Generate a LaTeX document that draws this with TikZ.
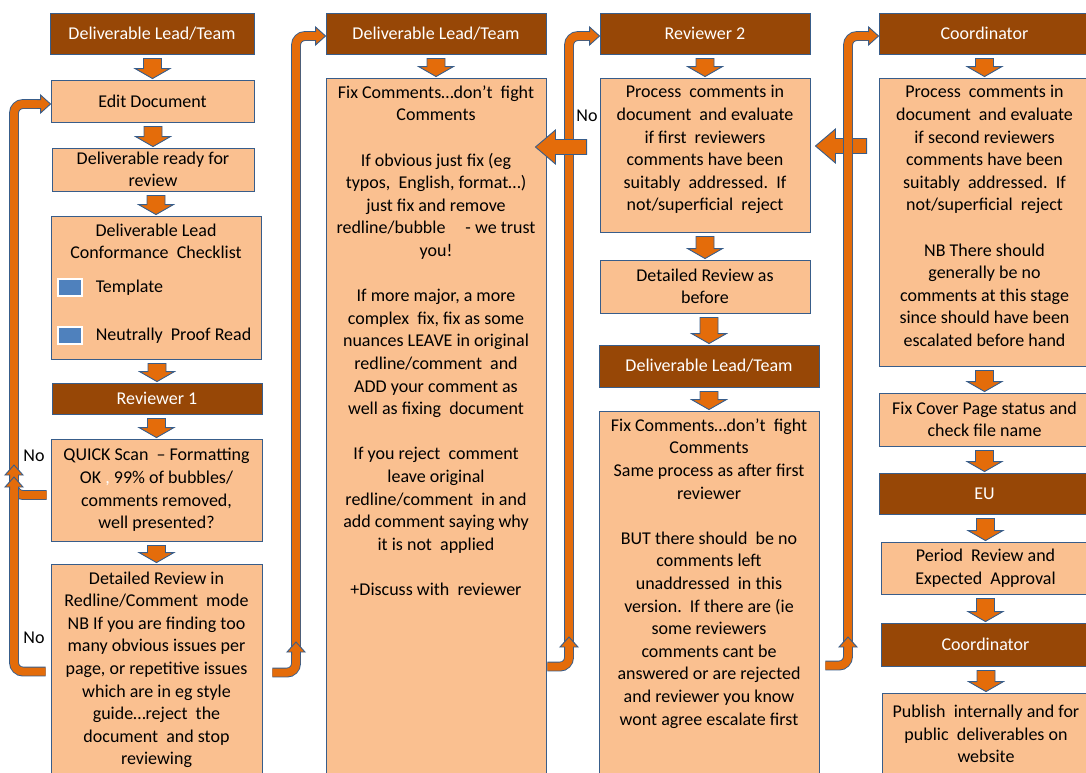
\documentclass[tikz,border=0pt]{standalone}
\usepackage{fontspec}
\setmainfont{Carlito}
\usetikzlibrary{calc,positioning}
\definecolor{mybrown}{RGB}{151,71,6}
\definecolor{myorange}{RGB}{228,108,10}
\definecolor{mypeach}{RGB}{250,192,144}
\definecolor{myblue}{RGB}{56,93,138}
\definecolor{mysquare}{RGB}{79,129,189}
\newcommand{\toptext}[3]{\parbox[c][#1][t]{#2}{\centering\vspace*{3.5pt}#3}}

\begin{document}
\begin{tikzpicture}
	[x=1pt, y=-1pt, every node/.style={font=\fontsize{18}{22.6}\selectfont},
	rolebox/.style={draw=myblue, fill=mybrown, text=white, line width=0.9pt, minimum height=41pt, inner sep=2pt},
	box/.style={draw=myblue, fill=mypeach, line width=0.9pt, align=center, inner sep=2pt},
	tallbox/.style={draw=myblue, fill=mypeach, line width=0.9pt, inner sep=4pt},
	sqbox/.style={fill=mysquare, draw=white, line width=1.2pt, minimum width=24pt, minimum height=17pt, inner sep=0pt},
	downarrow/.style={draw=myblue, fill=myorange, line width=0.9pt,
		to path={let \p1=(\tikztostart), \p2=(\tikztotarget) in
			(\x2-9pt,\y1) -- (\x2+9pt,\y1) -- (\x2+9pt,\y2+10pt) -- (\x2+17.5pt,\y2+10pt)
			-- (\x2,\y2) -- (\x2-17.5pt,\y2+10pt) -- (\x2-9pt,\y2+10pt) -- cycle}},
	leftarrow/.style={draw=myblue, fill=myorange, line width=0.9pt,
		to path={let \p1=(\tikztostart), \p2=(\tikztotarget) in
			(\x1,\y1+7.5pt) -- (\x2+20pt,\y1+7.5pt) -- (\x2+20pt,\y1+17pt) -- (\x2,\y1)
			-- (\x2+20pt,\y1-17pt) -- (\x2+20pt,\y1-7.5pt) -- (\x1,\y1-7.5pt) -- cycle}},
	bentshaft/.style={draw=myblue, line width=0.9pt, double=myorange, double distance=8pt, rounded corners=9pt},
	headright/.style={draw=myblue, fill=myorange, line width=0.9pt,
		to path={let \p1=(\tikztostart), \p2=(\tikztotarget) in
			(\x1,\y2+4.45pt) -- (\x2-10pt,\y2+4.45pt) -- (\x2-10pt,\y2+9pt) -- (\x2,\y2)
			-- (\x2-10pt,\y2-9pt) -- (\x2-10pt,\y2-4.45pt) -- (\x1,\y2-4.45pt)}},
	headup/.style={draw=myblue, fill=myorange, line width=0.9pt,
		to path={let \p1=(\tikztostart), \p2=(\tikztotarget) in
			(\x2-4.45pt,\y1) -- (\x2-4.45pt,\y2-10pt) -- (\x2-9pt,\y2-10pt) -- (\x2,\y2)
			-- (\x2+9pt,\y2-10pt) -- (\x2+4.45pt,\y2-10pt) -- (\x2+4.45pt,\y1)}}]
	\useasboundingbox (0,0) rectangle (1086,772);
	\clip (0,0) rectangle (1086,772);
	
	% first column
	\node[rolebox, minimum width=204pt] (lead1) at (152,33.5) {Deliverable Lead/Team};
	\node[box, minimum width=203pt, minimum height=42pt] (edit) at (152.5,101) {Edit Document};
	\node[box, minimum width=202pt, minimum height=43pt] (ready) at (153,169.5) {Deliverable ready for\\review};
	\node[tallbox] (check) at (156,287.5) {\toptext{135pt}{202pt}{Deliverable Lead\\Conformance\ \ Checklist}};
	\node[sqbox] (tmplsq) at (70,287.5) {};
	\node[inner sep=0pt, right=13pt of tmplsq] (tmpl) {Template};
	\node[sqbox] (proofsq) at (70,335.5) {};
	\node[inner sep=0pt, right=13pt of proofsq] (proof) {Neutrally\ \ Proof Read};
	\node[rolebox, minimum width=210pt, minimum height=31pt] (rev1) at (157,398.5) {Reviewer 1};
	\node[box, minimum width=211pt, minimum height=102pt] (quick) at (156.5,490)
		{QUICK Scan\ \ -- Formatting\\OK {\color{white},} 99\% of bubbles/\\comments removed,\\well presented?};
	\node[tallbox] (detail) at (156.5,672) {\toptext{208pt}{203pt}{Detailed Review in\\
		Redline/Comment\ \ mode\\NB If you are finding too\\many obvious issues per\\
		page, or repetitive issues\\which are in eg style\\guide…reject\ \ the\\
		document\ \ and stop\\reviewing}};
	\node (no1) at (34,456) {No};
	\node (no2) at (34,638) {No};
	
	% second column
	\node[rolebox, minimum width=220pt] (lead2) at (436,33.5) {Deliverable Lead/Team};
	\node[tallbox] (fix1) at (436,439) {\toptext{714pt}{212pt}{Fix Comments…don’t\ \ fight\\
		Comments\\[22.6pt]
		If obvious just fix (eg\\typos,\ \ English, format…)\\just fix and remove\\
		redline/bubble\hspace{20pt}- we trust\\you!\\[22.6pt]
		If more major, a more\\complex\ \ fix, fix as some\\nuances LEAVE in original\\
		redline/comment\ \ and\\ADD your comment as\\well as fixing\ \ document\\[22.6pt]
		If you reject\ \ comment\\leave original\\redline/comment\ \ in and\\
		add comment saying why\\it is not\ \ applied\\[22.6pt]
		+Discuss with\ \ reviewer}};
	
	% third column
	\node[rolebox, minimum width=210pt] (rev2) at (705,33.5) {Reviewer 2};
	\node[tallbox] (proc2) at (705,155) {\toptext{146pt}{202pt}{Process\ \ comments in\\
		document\ \ and evaluate\\if first\ \ reviewers\\comments have been\\
		suitably\ \ addressed.\ \ If\\not/superficial\ \ reject}};
	\node[box, minimum width=210pt, minimum height=53pt] (detail2) at (705,286.5) {Detailed Review as\\before};
	\node[rolebox, minimum width=220pt, minimum height=42pt] (lead3) at (709,366) {Deliverable Lead/Team};
	\node[tallbox] (fix2) at (709,605.5) {\toptext{381pt}{212pt}{Fix Comments…don’t\ \ fight\\
		Comments\\Same process as after first\\reviewer\\[22.6pt]
		BUT there should\ \ be no\\comments left\\unaddressed\ \ in this\\
		version.\ \ If there are (ie\\some reviewers\\comments cant be\\
		answered or are rejected\\and reviewer you know\\wont agree escalate first}};
	\node (no3) at (587,116) {No};
	
	% fourth column
	\node[rolebox, minimum width=211pt] (coord1) at (984.5,33.5) {Coordinator};
	\node[tallbox] (proc3) at (984.5,222) {\toptext{280pt}{203pt}{Process\ \ comments in\\
		document\ \ and evaluate\\if second reviewers\\comments have been\\
		suitably\ \ addressed.\ \ If\\not/superficial\ \ reject\\[22.6pt]
		NB There should\\generally be no\\comments at this stage\\
		since should have been\\escalated before hand}};
	\node[box, minimum width=211pt, minimum height=53pt] (cover) at (984.5,419.5) {Fix Cover Page status and\\check file name};
	\node[rolebox, minimum width=211pt] (eu) at (984.5,493.5) {EU};
	\node[box, minimum width=209pt, minimum height=52pt] (period) at (985.5,568) {Period\ \ Review and\\Expected\ \ Approval};
	\node[rolebox, minimum width=209pt, minimum height=43pt] (coord2) at (985.5,644.5) {Coordinator};
	\node[box, minimum width=208pt, minimum height=82pt] (publish) at (986,734)
		{Publish\ \ internally and for\\public\ \ deliverables on\\website};
	
	\foreach \a/\b in {lead1/edit,edit/ready,ready/check,check/rev1,rev1/quick,quick/detail,
		lead2/fix1,rev2/proc2,proc2/detail2,detail2/lead3,lead3/fix2,
		coord1/proc3,proc3/cover,cover/eu,eu/period,period/coord2,coord2/publish}
	\draw[downarrow] ([yshift=-4pt]\a.south) to ([yshift=1pt]\b.north);
	
	% loop back to Edit Document
	\coordinate (up1) at (14,486);
	\coordinate (in1) at (37,104);
	\coordinate (noq) at (14,478);
	\coordinate (nod) at (14,490);
	\draw[bentshaft] (up1) |- (in1);
	\draw[headright] (in1) to ([yshift=-3pt]edit.west);
	\draw[bentshaft] ([xshift=-4pt,yshift=-5pt]quick.west) -| (noq);
	\draw[headup] (noq) to ([yshift=13pt]noq);
	\draw[bentshaft] ([xshift=-5pt,yshift=-108pt]detail.north west) -| (nod);
	\draw[headup] (nod) to ([yshift=13pt]nod);
	
	% column 1 to column 2
	\coordinate (up2) at (296,651);
	\coordinate (in2) at (316,36);
	\coordinate (turn2) at (296,655);
	\draw[bentshaft] (up2) |- (in2);
	\draw[headright] (in2) to ([yshift=-2.5pt]lead2.west);
	\draw[bentshaft] ([xshift=10pt,yshift=-109pt]detail.north east) -| (turn2);
	\draw[headup] (turn2) to ([yshift=13pt]turn2);
	
	% column 2 to column 3
	\coordinate (up3) at (569,646);
	\coordinate (in3) at (590,36);
	\coordinate (turn3) at (569,650);
	\draw[bentshaft] (up3) |- (in3);
	\draw[headright] (in3) to ([yshift=-2.5pt]rev2.west);
	\draw[bentshaft] ([xshift=1pt,yshift=-589pt]fix1.north east) -| (turn3);
	\draw[headup] (turn3) to ([yshift=13pt]turn3);
	
	% rejections
	\draw[leftarrow] ([xshift=-13pt,yshift=8pt]proc2.west) to ([xshift=-11pt]fix1.east);
	\draw[leftarrow] ([xshift=-12pt,yshift=76pt]proc3.west) to ([xshift=5pt]proc2.east);
	
	% column 3 to column 4
	\coordinate (up4) at (848,646);
	\coordinate (in4) at (869,36);
	\coordinate (turn4) at (848,650);
	\draw[bentshaft] (up4) |- (in4);
	\draw[headright] (in4) to ([yshift=-2.5pt]coord1.west);
	\draw[bentshaft] ([xshift=6pt,yshift=-255pt]fix2.north east) -| (turn4);
	\draw[headup] (turn4) to ([yshift=13pt]turn4);
\end{tikzpicture}
\end{document}
